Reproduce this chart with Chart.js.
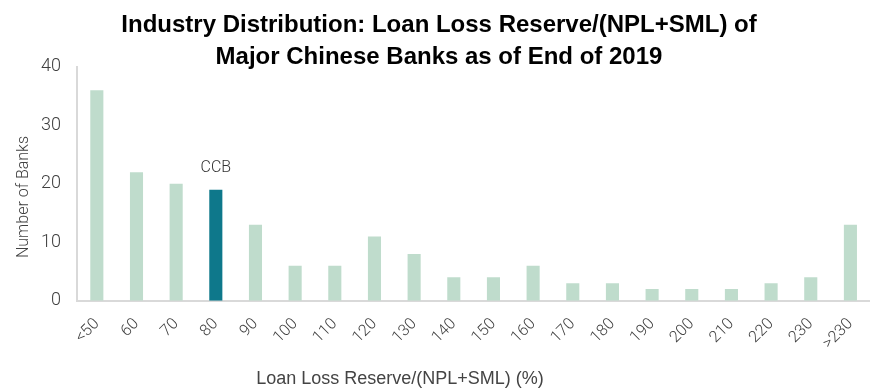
<!DOCTYPE html>
<html>
<head>
<meta charset="utf-8">
<script src="https://cdn.jsdelivr.net/npm/chart.js@4"></script>
<style>
html,body{margin:0;padding:0;background:#fff;overflow:hidden;}
#wrap{position:relative;width:878px;height:388px;}
</style>
</head>
<body>
<div id="wrap"><canvas id="c"></canvas></div>
<script>
const categories = ['<50','60','70','80','90','100','110','120','130','140','150','160','170','180','190','200','210','220','230','>230'];
const banks = [36,22,20,19,13,6,6,11,8,4,4,6,3,3,2,2,2,3,4,13];
const highlightLabel = 'CCB';
const highlightIndex = categories.indexOf('80');
const yTicksMax = 40;
const yTickStep = 10;
const titleLines = ['Industry Distribution: Loan Loss Reserve/(NPL+SML) of','Major Chinese Banks as of End of 2019'];
const xTitle = 'Loan Loss Reserve/(NPL+SML) (%)';
const yTitle = 'Number of Banks';

const light = '#bfdccc';
const dark = '#0e788b';

const textPlugin = {
  id: 'extraText',
  afterDatasetsDraw(chart) {
    const ctx = chart.ctx;
    const x = chart.scales.x, y = chart.scales.y;
    ctx.save();
    ctx.fillStyle = '#333';
    ctx.font = '300 16px Roboto';
    ctx.textAlign = 'center';
    ctx.textBaseline = 'bottom';
    ctx.fillText(highlightLabel, x.getPixelForValue(highlightIndex), y.getPixelForValue(banks[highlightIndex]) - 14);
    ctx.textBaseline = 'middle';
    ctx.fillStyle = '#444';
    ctx.font = '18px "Liberation Sans"';
    ctx.fillText(xTitle, 400, 379);
    ctx.translate(24, 197);
    ctx.rotate(-Math.PI / 2);
    ctx.fillStyle = '#404040';
    ctx.font = '300 16px Roboto';
    ctx.fillText(yTitle, 0, 0);
    ctx.restore();
  }
};

new Chart(document.getElementById('c'), {
  type: 'bar',
  data: {
    labels: categories,
    datasets: [{
      data: banks,
      backgroundColor: banks.map((v, i) => i === highlightIndex ? dark : light),
      barPercentage: 0.33,
      categoryPercentage: 1
    }]
  },
  options: {
    responsive: true,
    maintainAspectRatio: false,
    animation: false,
    layout: { padding: { left: 0, right: 0, top: 0, bottom: 21 } },
    plugins: {
      legend: { display: false },
      tooltip: { enabled: false },
      title: {
        display: true,
        text: titleLines,
        color: '#000',
        font: { family: 'Liberation Sans', size: 24, weight: 'bold', lineHeight: 1.333 },
        padding: { top: 9, bottom: -6 }
      }
    },
    scales: {
      x: {
        grid: { display: false, drawTicks: false },
        border: { color: '#d9d9d9', width: 2 },
        ticks: {
          color: '#404040',
          font: { family: 'Roboto', size: 16, weight: '300' },
          maxRotation: 45, minRotation: 45,
          padding: 14,
          autoSkip: false
        }
      },
      y: {
        min: 0, max: yTicksMax,
        afterFit(s) { s.width = 77; },
        grid: { display: false, drawTicks: false },
        border: { color: '#d9d9d9', width: 2 },
        ticks: {
          stepSize: yTickStep,
          color: '#404040',
          font: { family: 'Roboto', size: 18, weight: '300' },
          padding: 16
        }
      }
    }
  },
  plugins: [textPlugin]
});
</script>
</body>
</html>
